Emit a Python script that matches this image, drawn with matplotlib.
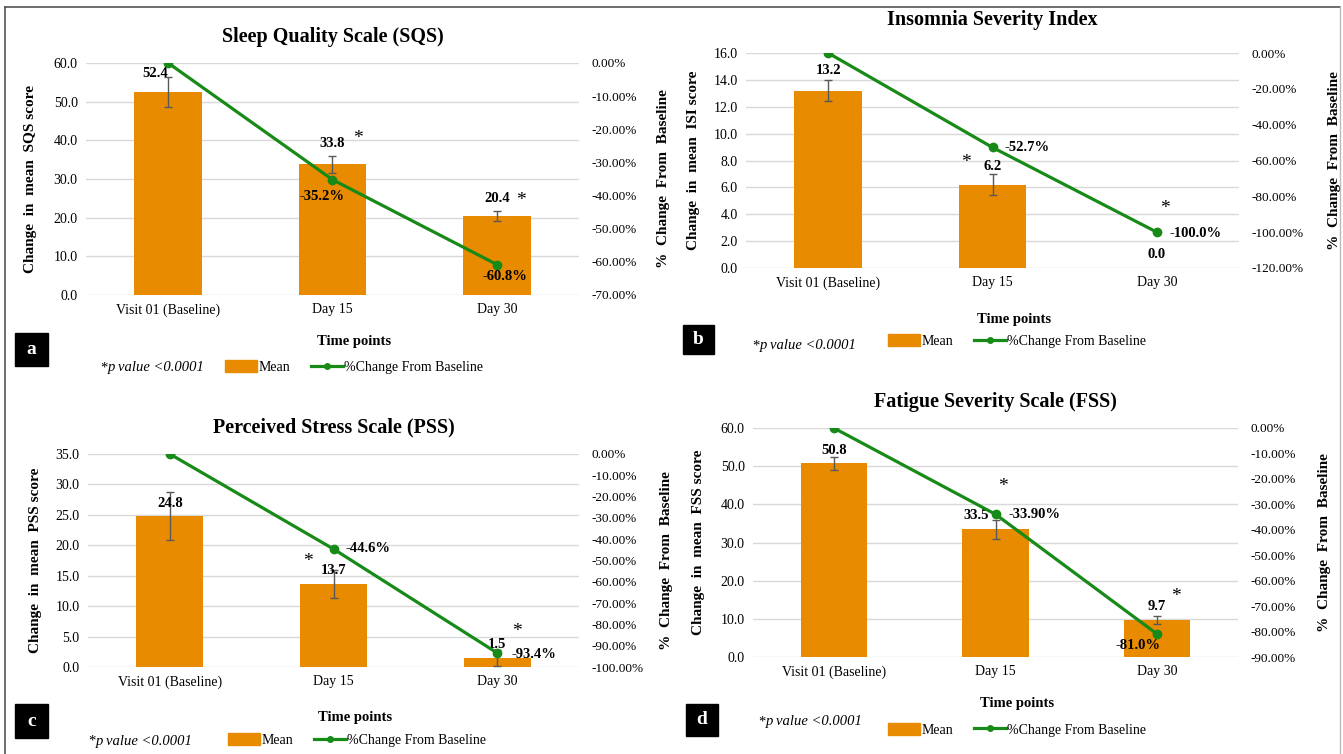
import matplotlib.pyplot as plt
import numpy as np
from matplotlib.lines import Line2D
from matplotlib.patches import Patch, Rectangle

plt.rcParams['font.family'] = ['Liberation Serif', 'DejaVu Serif']

W, H = 1343, 754

# 데이터
time_points = ['Visit 01 (Baseline)', 'Day 15', 'Day 30']

sqs_mean = [52.4, 33.8, 20.4]
sqs_err = [3.9, 2.2, 1.3]
sqs_pct = [0.0, -35.2, -60.8]

isi_mean = [13.2, 6.2, 0.0]
isi_err = [0.8, 0.8, 0.0]
isi_pct = [0.0, -52.7, -100.0]

pss_mean = [24.8, 13.7, 1.5]
pss_err = [4.0, 2.3, 1.3]
pss_pct = [0.0, -44.6, -93.4]

fss_mean = [50.8, 33.5, 9.7]
fss_err = [1.7, 2.5, 1.0]
fss_pct = [0.0, -33.9, -81.0]

BAR = '#E88B00'
GREEN = '#178A17'
GRID = '#D9D9D9'


def fx(x):
    return x / W


def fy(y):
    return 1 - y / H


panels = [
    dict(title='Sleep Quality Scale (SQS)', ylabel='Change  in  mean  SQS score',
         mean=sqs_mean, err=sqs_err, pct=sqs_pct, ymax=60, ystep=10,
         pmin=-70, pstep=10, letter='a',
         box=(86, 579, 63, 295), title_y=37, xt_y=310, ylab_x=37, rlab_x=657,
         tp_y=342, leg_y=367, pv_x=100, pv_y=368, leg_x=225, letter_box=(15, 333, 33, 33),
         bar_off=[(-13, 19), (0, 21), (0, 18)],
         pct_off=[None, (-10, -17, 'center', 1), (8, -12, 'center', 1)],
         stars=[None, ('mean', 25, 26), ('mean', 24, 16)]),
    dict(title='Insomnia Severity Index', ylabel='Change  in  mean  ISI score',
         mean=isi_mean, err=isi_err, pct=isi_pct, ymax=16, ystep=2,
         pmin=-120, pstep=20, letter='b',
         box=(746, 1239, 53, 268), title_y=20, xt_y=284, ylab_x=700, rlab_x=1328,
         tp_y=320, leg_y=341, pv_x=752, pv_y=346, leg_x=888, letter_box=(683, 325, 31, 29),
         bar_off=[(0, 20), (0, 18), (0, 13)],
         pct_off=[None, (12, 0, 'left', 1), (13, -1, 'left', 1)],
         stars=[None, ('mean', -27, 22), ('pct', 8, 24)]),
    dict(title='Perceived Stress Scale (PSS)', ylabel='Change  in  mean  PSS score',
         mean=pss_mean, err=pss_err, pct=pss_pct, ymax=35, ystep=5,
         pmin=-100, pstep=10, letter='c',
         box=(88, 579, 454, 667), title_y=427, xt_y=683, ylab_x=42, rlab_x=660,
         tp_y=718, leg_y=740, pv_x=88, pv_y=741, leg_x=228, letter_box=(15, 704, 33, 34),
         bar_off=[(0, 13), (0, 13), (0, 13)],
         pct_off=[None, (12, 0, 'left', 1), (14, -2, 'left', 1)],
         stars=[None, ('mean', -26, 22), ('mean', 20, 26)]),
    dict(title='Fatigue Severity Scale (FSS)', ylabel='Change  in  mean  FSS score',
         mean=fss_mean, err=fss_err, pct=fss_pct, ymax=60, ystep=10,
         pmin=-90, pstep=10, letter='d',
         box=(753, 1238, 428, 657), title_y=402, xt_y=673, ylab_x=705, rlab_x=1318,
         tp_y=704, leg_y=730, pv_x=758, pv_y=722, leg_x=888, letter_box=(686, 704, 32, 32),
         bar_off=[(0, 13), (-19, 14), (0, 13)],
         pct_off=[None, (13, 0, 'left', 2), (-19, -11, 'center', 1)],
         stars=[None, ('mean', 7, 43), ('mean', 19, 23)]),
]

fig = plt.figure(figsize=(W / 100, H / 100), dpi=100)

# 바깥 테두리
fig.add_artist(Line2D([fx(5), fx(1340)], [fy(7), fy(7)], color='#555555', lw=1.2))
fig.add_artist(Line2D([fx(5), fx(5)], [fy(7), fy(754)], color='#555555', lw=1.2))
fig.add_artist(Line2D([fx(1340), fx(1340)], [fy(7), fy(754)], color='#BBBBBB', lw=1))

x = np.arange(len(time_points))

for p in panels:
    l, r, t, b = p['box']
    ax = fig.add_axes([fx(l), fy(b), fx(r - l), (b - t) / H])
    ax2 = ax.twinx()

    ax.bar(x, p['mean'], width=0.41, color=BAR, zorder=2)
    err = np.array(p['err'])
    keep = err > 0
    ax.errorbar(x[keep], np.array(p['mean'])[keep], yerr=err[keep], fmt='none',
                ecolor='#595959', elinewidth=1, capsize=3, capthick=1, zorder=3)
    ax.set_xlim(-0.5, 2.5)
    ax.set_ylim(0, p['ymax'])
    ax.set_yticks(np.arange(0, p['ymax'] + 0.01, p['ystep']))
    ax.set_yticklabels(['{:.1f}'.format(v) for v in ax.get_yticks()], fontsize=10)
    ax.set_xticks(x)
    ax.set_xticklabels(time_points, fontsize=10)
    ax.grid(axis='y', color=GRID, lw=1, zorder=0)
    ax.set_axisbelow(True)
    ax.tick_params(length=0, pad=6)
    for s in ax.spines.values():
        s.set_visible(False)

    ax2.plot(x, p['pct'], color=GREEN, lw=2.3, marker='o', ms=6, zorder=4)
    ax2.set_ylim(p['pmin'], 0)
    pt = np.arange(0, p['pmin'] - 0.01, -p['pstep'])
    ax2.set_yticks(pt)
    ax2.set_yticklabels(['{:.2f}%'.format(v + 0.0) for v in pt], fontsize=9.5)
    ax2.tick_params(length=0, pad=9)
    for s in ax2.spines.values():
        s.set_visible(False)

    axw = r - l
    ax.set_ylabel(p['ylabel'], fontsize=11, fontweight='bold')
    ax.yaxis.set_label_coords(-(l - p['ylab_x']) / axw, 0.5)
    ax2.set_ylabel('%  Change  From  Baseline', fontsize=11, fontweight='bold', rotation=90)
    ax2.yaxis.set_label_coords(1 + (p['rlab_x'] - r) / axw, 0.5)

    # 막대 값 라벨
    for i, (m, off) in enumerate(zip(p['mean'], p['bar_off'])):
        ax.annotate('{:.1f}'.format(m), (i, m), xytext=off, textcoords='offset pixels',
                    ha='center', va='center', fontsize=10.5, fontweight='bold', zorder=5)

    # 변화율 라벨
    for i, (v, off) in enumerate(zip(p['pct'], p['pct_off'])):
        if off is None:
            continue
        ax2.annotate('{:.{}f}%'.format(v, off[3]), (i, v), xytext=off[:2],
                     textcoords='offset pixels', ha=off[2], va='center',
                     fontsize=10.5, fontweight='bold', zorder=6)

    # 유의성 별표
    for i, st in enumerate(p['stars']):
        if st is None:
            continue
        ref, dx, dy = st
        if ref == 'mean':
            ax.annotate('*', (i, p['mean'][i]), xytext=(dx, dy), textcoords='offset pixels',
                        ha='center', va='center', fontsize=14)
        else:
            ax2.annotate('*', (i, p['pct'][i]), xytext=(dx, dy), textcoords='offset pixels',
                         ha='center', va='center', fontsize=14)

    cx = (l + r) / 2
    fig.text(fx(cx), fy(p['title_y']), p['title'], ha='center', va='center',
             fontsize=14.5, fontweight='bold')
    fig.text(fx(cx + 22), fy(p['tp_y']), 'Time points', ha='center', va='center',
             fontsize=10.5, fontweight='bold')

    # 범례
    fig.text(fx(p['pv_x']), fy(p['pv_y']), '*', ha='left', va='center', fontsize=10.5)
    fig.text(fx(p['pv_x'] + 8), fy(p['pv_y']), 'p value <0.0001', ha='left', va='center',
             fontsize=10.5, style='italic')
    handles = [Patch(color=BAR, label='Mean'),
               Line2D([], [], color=GREEN, lw=2.3, marker='o', ms=4, label='%Change From Baseline')]
    fig.legend(handles=handles, loc='center left', bbox_to_anchor=(fx(p['leg_x']), fy(p['leg_y'])),
               ncol=2, frameon=False, fontsize=10, handlelength=2.3, handleheight=0.9,
               handletextpad=0.1, columnspacing=1.5, borderaxespad=0, borderpad=0)

    # 패널 기호
    bx, by, bw, bh = p['letter_box']
    fig.add_artist(Rectangle((fx(bx), fy(by + bh)), bw / W, bh / H, color='black',
                             transform=fig.transFigure))
    fig.text(fx(bx + bw / 2), fy(by + bh / 2), p['letter'], color='white', ha='center',
             va='center', fontsize=14, fontweight='bold')

fig.savefig('out.png', dpi=100)
